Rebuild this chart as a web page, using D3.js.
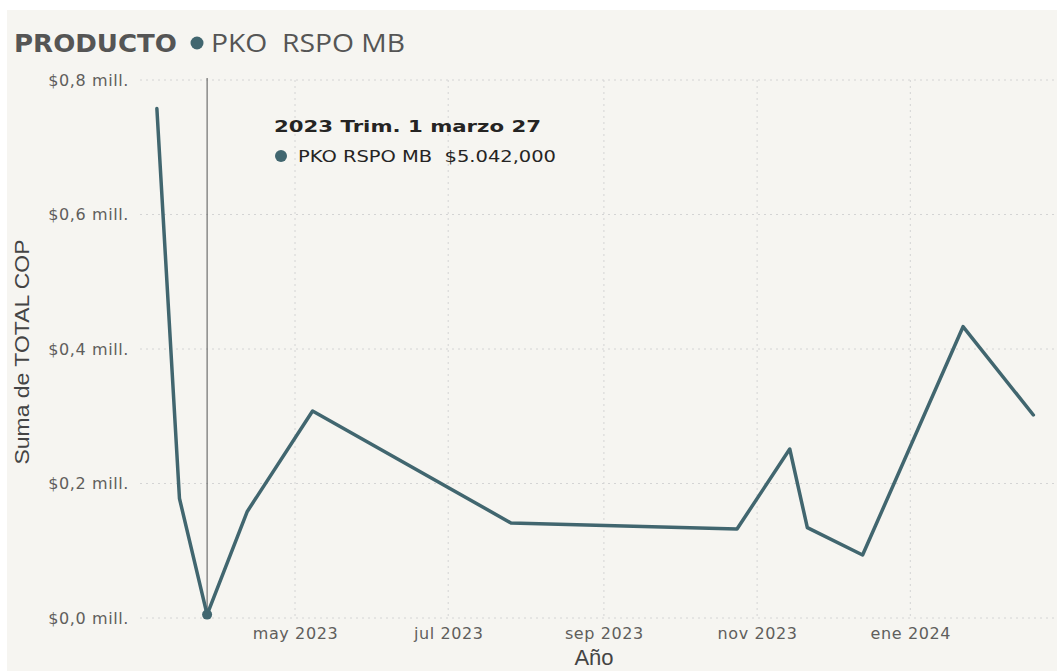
<!DOCTYPE html>
<html>
<head>
<meta charset="utf-8">
<script src="https://cdn.jsdelivr.net/npm/d3@7"></script>
<style>
  body { margin: 0; background: #ffffff; }
  svg { display: block; }
  .tick text { font-family: "DejaVu Sans", Verdana, sans-serif; font-size: 16px; fill: #605e5c; letter-spacing: 0.6px; }
</style>
</head>
<body>
<div id="chart"></div>
<script>
// data
var fechas = ["2023-03-07", "2023-03-16", "2023-03-27", "2023-04-12", "2023-05-08",
              "2023-07-26", "2023-10-24", "2023-11-14", "2023-11-21", "2023-12-13",
              "2024-01-22", "2024-02-19"];
var totalCop = [757600, 177700, 5042, 158400, 307800,
                141300, 132300, 251300, 134300, 93700,
                433200, 301900];
var xTicks = ["2023-05-01", "2023-07-01", "2023-09-01", "2023-11-01", "2024-01-01"];
var xTickLabels = ["may 2023", "jul 2023", "sep 2023", "nov 2023", "ene 2024"];
var yTicks = [0, 200000, 400000, 600000, 800000];
var yTickLabels = ["$0,0 mill.", "$0,2 mill.", "$0,4 mill.", "$0,6 mill.", "$0,8 mill."];
var producto = "PKO  RSPO MB";
var tooltipFecha = "2023-03-27";
var tooltipTitulo = "2023 Trim. 1 marzo 27";
var tooltipValor = "$5.042,000";

var width = 1057, height = 671;
var lineColor = "#41666f";

var parse = d3.utcParse("%Y-%m-%d");
var datos = fechas.map(function(f, i){ return {fecha: parse(f), valor: totalCop[i]}; });

var svg = d3.select("#chart").append("svg")
    .attr("width", width)
    .attr("height", height);

svg.append("rect")
    .attr("x", 7).attr("y", 10)
    .attr("width", width - 7).attr("height", height - 10)
    .attr("fill", "#f6f5f1");

var x = d3.scaleUtc()
    .domain([parse("2023-05-01"), parse("2024-01-01")])
    .range([295, 910.3]);
var y = d3.scaleLinear()
    .domain([0, 800000])
    .range([618, 80]);

var plotLeft = 140, plotRight = 1057;

// gridlines
svg.append("g").selectAll("line.h")
    .data(yTicks).enter().append("line")
    .attr("x1", plotLeft).attr("x2", plotRight)
    .attr("y1", function(d){ return y(d); })
    .attr("y2", function(d){ return y(d); })
    .attr("stroke", "#d4d4d4")
    .attr("stroke-width", 1)
    .attr("stroke-dasharray", "2,4");

svg.append("g").selectAll("line.v")
    .data(xTicks).enter().append("line")
    .attr("x1", function(d){ return x(parse(d)); })
    .attr("x2", function(d){ return x(parse(d)); })
    .attr("y1", 80).attr("y2", 618)
    .attr("stroke", "#d4d4d4")
    .attr("stroke-width", 1)
    .attr("stroke-dasharray", "2,4");

// axes
var yAxis = d3.axisLeft(y)
    .tickValues(yTicks)
    .tickSize(0)
    .tickPadding(0)
    .tickFormat(function(d, i){ return yTickLabels[i]; });
svg.append("g")
    .attr("transform", "translate(129,0)")
    .call(yAxis)
    .call(function(g){ g.select(".domain").remove(); });

var xAxis = d3.axisBottom(x)
    .tickValues(xTicks.map(parse))
    .tickSize(0)
    .tickPadding(0)
    .tickFormat(function(d, i){ return xTickLabels[i]; });
svg.append("g")
    .attr("transform", "translate(0,628)")
    .call(xAxis)
    .call(function(g){ g.select(".domain").remove(); });

// axis titles
svg.append("text")
    .attr("transform", "translate(29,352) rotate(-90)")
    .attr("text-anchor", "middle")
    .attr("textLength", 225)
    .attr("lengthAdjust", "spacingAndGlyphs")
    .style("font-family", "'Liberation Sans', Arial, sans-serif")
    .style("font-size", "21px")
    .style("fill", "#444444")
    .text("Suma de TOTAL COP");

svg.append("text")
    .attr("x", 594).attr("y", 665)
    .attr("text-anchor", "middle")
    .style("font-family", "'Liberation Sans', Arial, sans-serif")
    .style("font-size", "22px")
    .style("fill", "#444444")
    .text("Año");

// hover line
svg.append("line")
    .attr("x1", x(parse(tooltipFecha))).attr("x2", x(parse(tooltipFecha)))
    .attr("y1", 78).attr("y2", y(5042))
    .attr("stroke", "#555555")
    .attr("stroke-width", 1);

// line
var line = d3.line()
    .x(function(d){ return x(d.fecha); })
    .y(function(d){ return y(d.valor); });

svg.append("path")
    .datum(datos)
    .attr("d", line)
    .attr("fill", "none")
    .attr("stroke", lineColor)
    .attr("stroke-width", 3.5)
    .attr("stroke-linejoin", "round")
    .attr("stroke-linecap", "round");

svg.append("circle")
    .attr("cx", x(parse(tooltipFecha)))
    .attr("cy", y(5042))
    .attr("r", 5)
    .attr("fill", lineColor);

// legend / title
svg.append("text")
    .attr("x", 14).attr("y", 52)
    .attr("textLength", 163)
    .attr("lengthAdjust", "spacingAndGlyphs")
    .style("font-family", "'DejaVu Sans', sans-serif")
    .style("font-weight", "bold")
    .style("font-size", "25px")
    .style("fill", "#555555")
    .text("PRODUCTO");
svg.append("circle")
    .attr("cx", 197).attr("cy", 43)
    .attr("r", 6.5)
    .attr("fill", lineColor);
svg.append("text")
    .attr("x", 211).attr("y", 52)
    .attr("textLength", 194)
    .attr("lengthAdjust", "spacingAndGlyphs")
    .style("font-family", "'Open Sans', sans-serif")
    .style("font-size", "25px")
    .style("fill", "#555555")
    .attr("xml:space", "preserve")
    .text(producto);

// tooltip
svg.append("text")
    .attr("x", 274).attr("y", 132)
    .attr("textLength", 267)
    .attr("lengthAdjust", "spacingAndGlyphs")
    .style("font-family", "'DejaVu Sans', Verdana, sans-serif")
    .style("font-weight", "bold")
    .style("font-size", "16.5px")
    .style("fill", "#252423")
    .text(tooltipTitulo);
svg.append("circle")
    .attr("cx", 281).attr("cy", 156)
    .attr("r", 6)
    .attr("fill", lineColor);
svg.append("text")
    .attr("x", 298).attr("y", 162)
    .attr("textLength", 258)
    .attr("lengthAdjust", "spacingAndGlyphs")
    .style("font-family", "'DejaVu Sans', Verdana, sans-serif")
    .style("font-size", "16px")
    .style("fill", "#252423")
    .attr("xml:space", "preserve")
    .text("PKO RSPO MB  " + tooltipValor);
</script>
</body>
</html>
